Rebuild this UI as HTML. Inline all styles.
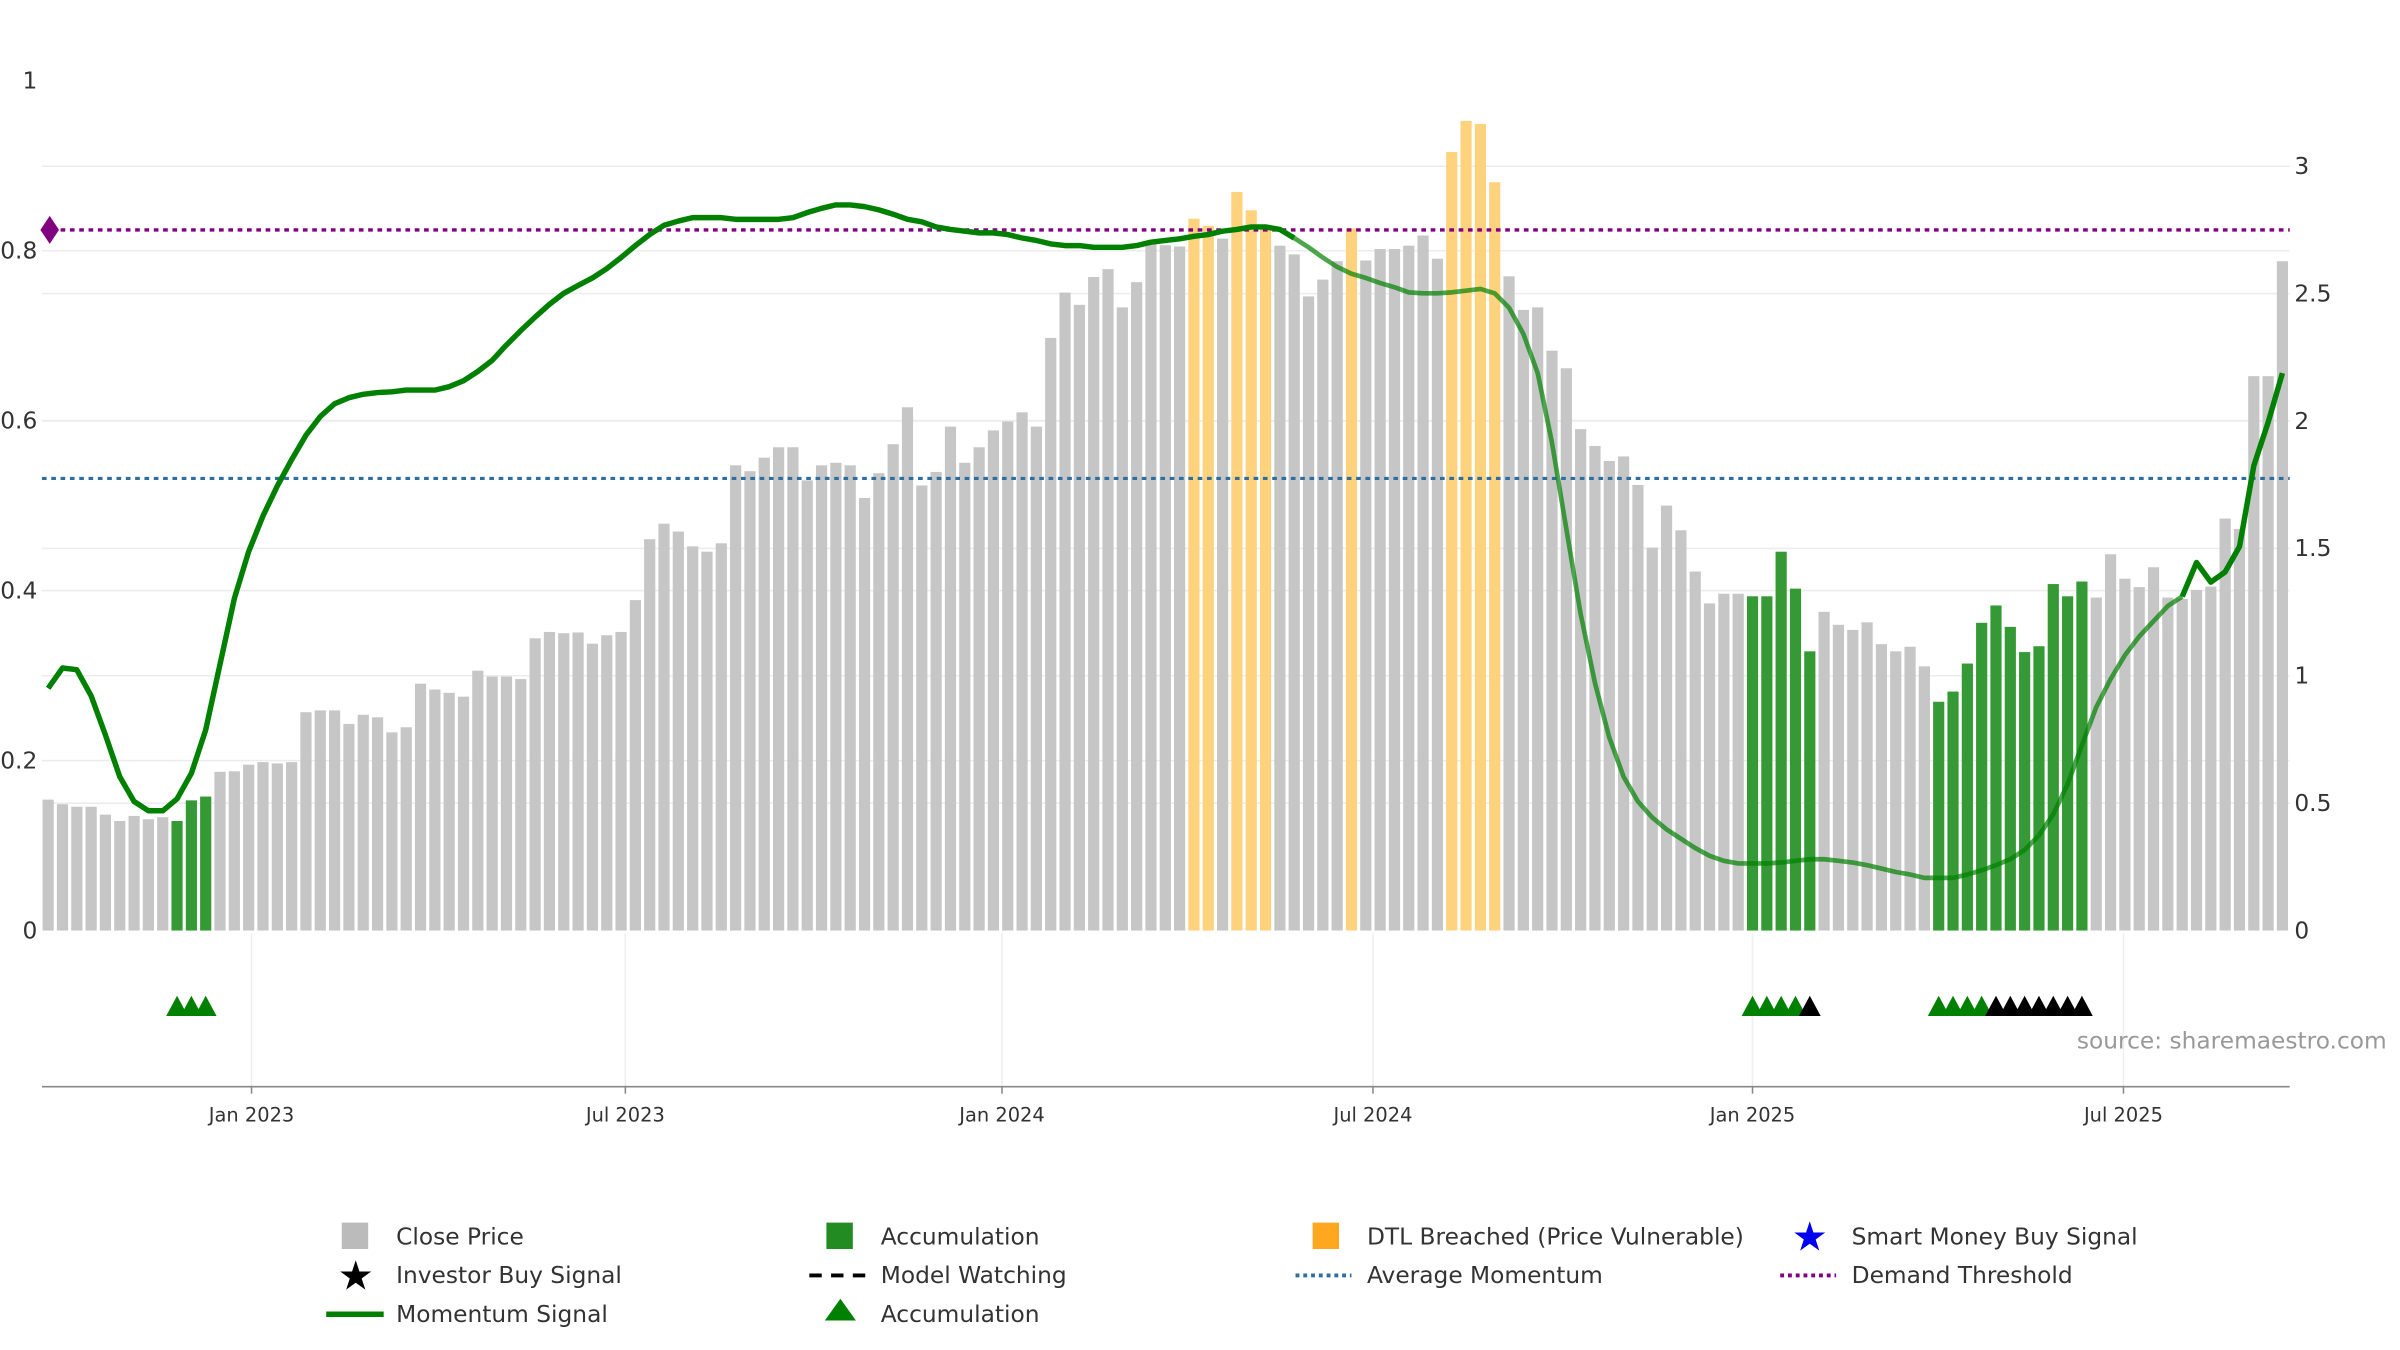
<!DOCTYPE html>
<html><head><meta charset="utf-8">
<style>
html,body{margin:0;padding:0;background:#fff;}
svg{display:block;font-family:"DejaVu Sans","Liberation Sans",sans-serif;}
</style></head>
<body>
<svg id="chart" xmlns="http://www.w3.org/2000/svg" width="2400" height="1350" viewBox="0 0 1545 869" preserveAspectRatio="none">
<g id="grid"></g>
<g id="bars"></g>
<g id="lines"></g>
<g id="mom"></g>
<g id="signals"></g>
<g id="axes"></g>
<text x="1337" y="675" font-size="15" fill="#999">source: sharemaestro.com</text>
<g id="legend">
  <g><rect x="220" y="787" width="17" height="17" fill="#bbb"/><text x="255" y="801" font-size="15" fill="#333">Close Price</text></g>
  <g><rect x="532" y="787" width="17" height="17" fill="#228b22"/><text x="567" y="801" font-size="15" fill="#333">Accumulation</text></g>
  <g><rect x="845" y="787" width="17" height="17" fill="#ffa81f"/><text x="880" y="801" font-size="15" fill="#333">DTL Breached (Price Vulnerable)</text></g>
  <g><text x="1165" y="805" font-size="26" fill="#0000ee" text-anchor="middle">★</text><text x="1192" y="801" font-size="15" fill="#333">Smart Money Buy Signal</text></g>
  <g><text x="229" y="830" font-size="26" fill="#000" text-anchor="middle">★</text><text x="255" y="826" font-size="15" fill="#333">Investor Buy Signal</text></g>
  <g><line x1="521" y1="821" x2="557" y2="821" stroke="#000" stroke-width="2.5" stroke-dasharray="8,6"/><text x="567" y="826" font-size="15" fill="#333">Model Watching</text></g>
  <g><line x1="834" y1="821" x2="870" y2="821" stroke="#2e6fa0" stroke-width="2.5" stroke-dasharray="2.5,2.5"/><text x="880" y="826" font-size="15" fill="#333">Average Momentum</text></g>
  <g><line x1="1146" y1="821" x2="1182" y2="821" stroke="#800080" stroke-width="2.5" stroke-dasharray="2.5,2.5"/><text x="1192" y="826" font-size="15" fill="#333">Demand Threshold</text></g>
  <g><line x1="210" y1="846" x2="247" y2="846" stroke="#008000" stroke-width="3.5"/><text x="255" y="851" font-size="15" fill="#333">Momentum Signal</text></g>
  <g><polygon points="541,836 531,850 551,850" fill="#008000"/><text x="567" y="851" font-size="15" fill="#333">Accumulation</text></g>
</g>
</svg>
<script>
const priceValues=[0.514,0.496,0.486,0.486,0.455,0.430,0.450,0.437,0.445,0.430,0.511,0.526,0.623,0.625,0.651,0.661,0.656,0.661,0.857,0.864,0.864,0.811,0.847,0.837,0.778,0.798,0.969,0.946,0.933,0.918,1.020,0.997,0.997,0.987,1.147,1.172,1.167,1.170,1.126,1.159,1.172,1.297,1.536,1.597,1.566,1.508,1.487,1.520,1.826,1.803,1.856,1.897,1.897,1.767,1.826,1.836,1.826,1.698,1.795,1.909,2.054,1.747,1.800,1.978,1.836,1.897,1.963,1.998,2.034,1.978,2.326,2.504,2.456,2.565,2.596,2.446,2.545,2.700,2.690,2.685,2.794,2.766,
2.716,2.899,2.827,2.766,2.688,2.654,2.489,2.555,2.627,2.756,2.630,2.675,2.675,2.688,2.728,2.637,3.056,3.178,3.166,2.937,2.568,2.436,2.446,2.276,2.207,1.968,1.902,1.843,1.861,1.749,1.503,1.668,1.571,1.409,1.284,1.322,1.322,1.312,1.312,1.487,1.342,1.096,1.251,1.200,1.180,1.210,1.124,1.096,1.114,1.037,0.898,0.938,1.048,1.208,1.276,1.192,1.093,1.116,1.360,1.312,1.370,1.307,1.477,1.381,1.348,1.426,1.307,1.302,1.337,1.350,1.617,1.576,2.176,2.176,2.627];
// 0 = close price, 1 = accumulation, 2 = DTL breached
const barStates=[0,0,0,0,0,0,0,0,0,1,1,1,0,0,0,0,0,0,0,0,0,0,0,0,0,0,0,0,0,0,0,0,0,0,0,0,0,0,0,0,0,0,0,0,0,0,0,0,0,0,0,0,0,0,0,0,0,0,0,0,0,0,0,0,0,0,0,0,0,0,0,0,0,0,0,0,0,0,0,0,2,2,
0,2,2,2,0,0,0,0,0,2,0,0,0,0,0,0,2,2,2,2,0,0,0,0,0,0,0,0,0,0,0,0,0,0,0,0,0,1,1,1,1,1,0,0,0,0,0,0,0,0,1,1,1,1,1,1,1,1,1,1,1,0,0,0,0,0,0,0,0,0,0,0,0,0,0];
const momentumValues=[0.285,0.309,0.307,0.276,0.230,0.181,0.152,0.141,0.141,0.155,0.185,0.236,0.313,0.391,0.446,0.488,0.523,0.554,0.583,0.605,0.620,0.627,0.631,0.633,0.634,0.636,0.636,0.636,0.640,0.647,0.658,0.671,0.689,0.706,0.722,0.737,0.750,0.759,0.768,0.779,0.792,0.806,0.819,0.830,0.835,0.839,0.839,0.839,0.837,0.837,0.837,0.837,0.839,0.845,0.850,0.854,0.854,0.852,0.848,0.843,0.837,0.834,0.828,0.825,0.823,0.821,0.821,0.819,0.815,0.812,0.808,0.806,0.806,0.804,0.804,0.804,0.806,0.810,0.812,0.814,0.817,0.819,0.823,0.825,0.828,0.828,0.825,0.815,0.804,0.792,0.781,0.773,0.768,0.762,0.757,0.751,0.750,0.750,0.751,0.753,0.755,0.750,0.733,0.702,0.656,0.574,0.473,0.373,0.291,0.227,0.181,0.152,0.133,0.119,0.108,0.097,0.088,0.082,0.079,0.079,0.079,0.080,0.082,0.084,0.084,0.082,0.080,0.077,0.073,0.069,0.066,0.062,0.062,0.062,0.066,0.071,0.077,0.084,0.095,0.112,0.137,0.172,0.218,0.263,0.296,0.324,0.346,0.364,0.382,0.393,0.433,0.410,0.422,0.452,0.547,0.598,0.656];
const accumSignalIdx=[9,10,11,119,120,121,122,132,133,134,135];
const investorSignalIdx=[123,136,137,138,139,140,141,142];
const leftTicks=[0,0.2,0.4,0.6,0.8,1];
const leftTickLabels=["0","0.2","0.4","0.6","0.8","1"];
const rightTicks=[0,0.5,1,1.5,2,2.5,3];
const rightTickLabels=["0","0.5","1","1.5","2","2.5","3"];
const dateTickIdx=[14.2,40.3,66.6,92.5,119,144.9];
const dateTickLabels=["Jan 2023","Jul 2023","Jan 2024","Jul 2024","Jan 2025","Jul 2025"];
const avgMomentum=0.532;
const demandThreshold=0.8245;

const NS="http://www.w3.org/2000/svg";
const X0=27,X1=1474,BASE=599;
const xAt=i=>31+i*9.22;
const yL=v=>BASE-v*547;
const yR=v=>BASE-v*164;
function mk(tag,attrs,parent){const e=document.createElementNS(NS,tag);for(const k in attrs)e.setAttribute(k,attrs[k]);parent.appendChild(e);return e;}
const grid=document.getElementById('grid'),bars=document.getElementById('bars'),lines=document.getElementById('lines'),mom=document.getElementById('mom'),sig=document.getElementById('signals'),axes=document.getElementById('axes');

leftTicks.forEach((t,k)=>{
  if(t>0&&t<1){const g=mk('line',{x1:X0,x2:X1,y1:yL(t),y2:yL(t),stroke:'#ececec','stroke-width':1},grid);
  
  }
  const tx=mk('text',{x:24,y:yL(t)+5,'font-size':15,fill:'#333','text-anchor':'end'},axes);tx.textContent=leftTickLabels[k];
  
  
});
rightTicks.forEach((t,k)=>{
  if(t>0){const g=mk('line',{x1:X0,x2:X1,y1:yR(t),y2:yR(t),stroke:'#ececec','stroke-width':1},grid);
  
  }
  const tx=mk('text',{x:1477,y:yR(t)+5,'font-size':15,fill:'#333'},axes);tx.textContent=rightTickLabels[k];
  
  
});
dateTickIdx.forEach((d,k)=>{
  const x=xAt(d);
  const g=mk('line',{x1:x,x2:x,y1:601,y2:699,stroke:'#eee','stroke-width':1},grid);
  
  
  mk('line',{x1:x,x2:x,y1:699,y2:704,stroke:'#888','stroke-width':1},axes);
  const tx=mk('text',{x:x,y:722,'font-size':12.5,fill:'#333','text-anchor':'middle'},axes);tx.textContent=dateTickLabels[k];
  
  
});
const xl=mk('line',{x1:X0,x2:X1,y1:699.5,y2:699.5,stroke:'#888','stroke-width':1},axes);



const colors=['#c6c6c6','#359a35','#ffd27e'];
priceValues.forEach((v,i)=>{
  const r=mk('rect',{x:xAt(i)-3.6,y:yR(v),width:7.2,height:BASE-yR(v),fill:colors[barStates[i]]},bars);
  
  
});

const avg=mk('line',{x1:X0,x2:X1,y1:yL(avgMomentum),y2:yL(avgMomentum),stroke:'#2e6fa0','stroke-width':2,'stroke-dasharray':'3,3'},lines);


const dem=mk('line',{x1:X0,x2:X1,y1:yL(demandThreshold),y2:yL(demandThreshold),stroke:'#800080','stroke-width':2.2,'stroke-dasharray':'3,3'},lines);


const yd=yL(demandThreshold);
const dia=mk('polygon',{points:`32,${yd-9} 38,${yd} 32,${yd+9} 26,${yd}`,fill:'#800080'},lines);



function seg(a,b,opacity,width){
  let d='';for(let i=a;i<=b;i++){d+=(i===a?'M':'L')+xAt(i).toFixed(1)+','+yL(momentumValues[i]).toFixed(1);}
  const p=mk('path',{d:d,fill:'none',stroke:'#008000','stroke-width':width,'stroke-opacity':opacity,'stroke-linejoin':'round'},mom);
  
  
}
seg(0,87,1,3.5);
seg(87,149,0.7,3);
seg(149,momentumValues.length-1,1,3.5);

accumSignalIdx.forEach(i=>{const x=xAt(i);
  const t=mk('polygon',{points:`${x},641 ${x-7},654 ${x+7},654`,fill:'#008000'},sig);
  
  });
investorSignalIdx.forEach(i=>{const x=xAt(i);
  const t=mk('polygon',{points:`${x},641 ${x-7},654 ${x+7},654`,fill:'#000'},sig);
  
  });
</script>
</body></html>
